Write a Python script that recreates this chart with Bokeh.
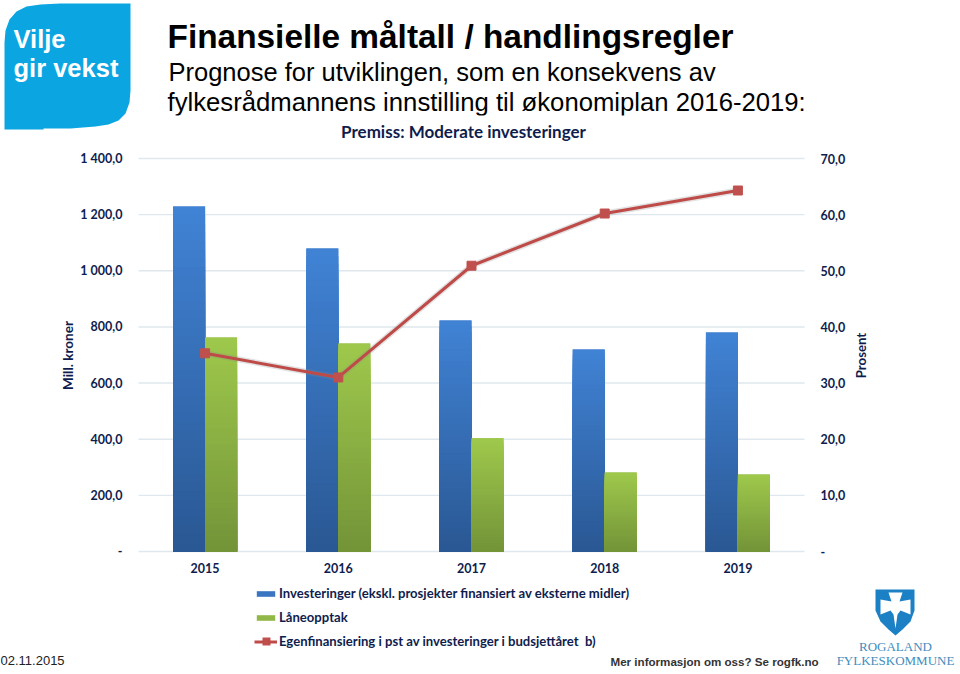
import math
from bokeh.plotting import figure
from bokeh.embed import file_html
from bokeh.resources import INLINE
from bokeh.models import (Range1d, LinearAxis, FixedTicker, Label, Legend, LegendItem,
                          PolyAnnotation)

years = ["2015", "2016", "2017", "2018", "2019"]
investeringer = [1229, 1079, 823, 720, 780]
laneopptak = [762, 741, 403, 281, 274]
egenfinansiering = [35.3, 31.0, 50.9, 60.2, 64.3]
left_ticks = [0, 200, 400, 600, 800, 1000, 1200, 1400]
left_labels = ["-", "200,0", "400,0", "600,0", "800,0", "1 000,0", "1 200,0", "1 400,0"]
right_ticks = [0, 10, 20, 30, 40, 50, 60, 70]
right_labels = ["-", "10,0", "20,0", "30,0", "40,0", "50,0", "60,0", "70,0"]

NAVY = "#0f1d4e"
FL, FR, FT, FB = 138, 804, 158, 551
W, H = 960, 674
KX = (FR - FL) / 5
KY = (FB - FT) / 1400
KP = (FB - FT) / 70

p = figure(width=W, height=H, output_backend="svg", toolbar_location=None,
           x_range=Range1d(-FL / KX, (W - FL) / KX), y_range=Range1d(-(H - FB) / KY, FB / KY),
           min_border=0, margin=(0, 0, 0, 0), outline_line_color=None, background_fill_color="white",
           border_fill_color="white", x_axis_location=None, y_axis_location=None)
p.extra_y_ranges = {"pct": Range1d(-(H - FB) / KP, FB / KP)}
p.xgrid.visible = False
p.ygrid.visible = False


def style(ax):
    ax.axis_line_color = None
    ax.major_tick_line_color = None
    ax.minor_tick_line_color = None
    ax.major_label_text_font = "Lato"
    ax.major_label_text_font_style = "bold"
    ax.major_label_text_font_size = "12.5px"
    ax.major_label_text_color = NAVY


xc = [i + 0.5 for i in range(len(years))]
xax = LinearAxis(fixed_location=0, ticker=FixedTicker(ticks=xc),
                 major_label_overrides={c: y for c, y in zip(xc, years)}, major_label_standoff=5)
style(xax)
p.add_layout(xax, "below")

lax = LinearAxis(fixed_location=0, ticker=FixedTicker(ticks=left_ticks),
                 major_label_overrides=dict(zip(left_ticks, left_labels)), major_label_standoff=10)
style(lax)
p.add_layout(lax, "left")

rax = LinearAxis(fixed_location=5, y_range_name="pct", ticker=FixedTicker(ticks=right_ticks),
                 major_label_overrides=dict(zip(right_ticks, right_labels)), major_label_standoff=10)
style(rax)
p.add_layout(rax, "right")

p.segment(x0=0, x1=5, y0=left_ticks, y1=left_ticks, line_color="#dfe8ee", line_width=1.4)

BAR = 0.24


def lerp(c1, c2, t):
    return "#%02x%02x%02x" % tuple(round(a + (b - a) * t) for a, b in zip(c1, c2))


def gradient_bars(values, x0, x1, top, bottom, n=40):
    base = p.quad(left=x0, right=x1, bottom=0, top=values, fill_color=lerp(top, bottom, 0.3), line_color=None)
    for i in range(n):
        f = 1 - i / n
        p.quad(left=x0, right=x1, bottom=0, top=[v * f for v in values],
               fill_color=lerp(top, bottom, i / (n - 1)), line_color=None)
    return base


blue = gradient_bars(investeringer, [c - BAR for c in xc], xc, (64, 130, 212), (42, 88, 148))
green = gradient_bars(laneopptak, xc, [c + BAR for c in xc], (158, 200, 76), (116, 148, 56))

p.line(xc, egenfinansiering, y_range_name="pct", line_color="#8a8a8a", line_alpha=0.25, line_width=6)
ln = p.line(xc, egenfinansiering, y_range_name="pct", line_color="#be4b48", line_width=3)
mk = p.scatter(xc, egenfinansiering, y_range_name="pct", marker="square", size=9,
               fill_color="#c0504d", line_color="#c0504d")

legend = Legend(items=[
    LegendItem(label="Investeringer (ekskl. prosjekter finansiert av eksterne midler)", renderers=[blue]),
    LegendItem(label="Låneopptak", renderers=[green]),
    LegendItem(label="Egenfinansiering i pst av investeringer i budsjettåret  b)", renderers=[ln, mk]),
], location=(254, H - 649), orientation="vertical", background_fill_alpha=0, border_line_color=None,
    glyph_width=23, glyph_height=7, label_height=14, spacing=8, padding=0, margin=0, label_standoff=2,
    label_text_font="Lato", label_text_font_style="bold", label_text_font_size="13.1px",
    label_text_color=NAVY)
p.add_layout(legend, "center")


def poly(pts, color):
    p.add_layout(PolyAnnotation(xs=[a for a, b in pts], ys=[H - b for a, b in pts],
                                xs_units="screen", ys_units="screen", fill_color=color, fill_alpha=1,
                                line_color=None))


def txt(x, y, s, size, font="Liberation Sans", style="normal", color="black", align="left"):
    # y is the wanted baseline, in pixels from the top of the page
    p.add_layout(Label(x=x, y=H - y + 0.39 * size, x_units="screen", y_units="screen", text=s, text_font=font,
                       text_font_style=style, text_font_size=f"{size}px", text_color=color,
                       text_align=align, text_baseline="alphabetic"))


def vtxt(x, y, s, size):
    p.add_layout(Label(x=x, y=H - y, x_units="screen", y_units="screen", text=s, text_font="Lato",
                       text_font_style="bold", text_font_size=f"{size}px", text_color=NAVY,
                       text_align="center", text_baseline="middle", angle=math.pi / 2))


vtxt(67, 355, "Mill. kroner", 13.5)
vtxt(860, 355, "Prosent", 13.2)

# marker of the legend's line entry
poly([(262, 637), (270, 637), (270, 645), (262, 645)], "#c0504d")

# Vilje gir vekst logo
LOGO = [(4, 129), (4, 42), (5, 30), (9, 19), (16, 11), (26, 6), (40, 4), (60, 3), (130, 3), (130, 90), (129, 102),
        (125, 113), (118, 120), (108, 124), (95, 126), (70, 128), (43, 128), (43, 129)]
poly(LOGO, "#0ba5e2")
txt(13, 48, "Vilje", 25.5, style="bold", color="white")
txt(13, 77, "gir vekst", 25.5, style="bold", color="white")

# headings
txt(167, 49, "Finansielle måltall / handlingsregler", 33.4, style="bold")
txt(168, 81, "Prognose for utviklingen, som en konsekvens av", 25.5)
txt(167, 111.5, "fylkesrådmannens innstilling til økonomiplan 2016-2019:", 25.7)
poly([(160, 115), (820, 115), (820, 122), (160, 122)], "white")
txt(463, 138, "Premiss: Moderate investeringer", 17, font="Lato", style="bold", color=NAVY, align="center")

# footer
txt(0, 665, "02.11.2015", 13, color="#222222")
txt(610, 666, "Mer informasjon om oss? Se rogfk.no", 11.6, style="bold", color="#333333")

# Rogaland shield
poly([(875, 589), (914, 589), (914, 610), (910, 621), (902, 629), (895, 635), (888, 629), (880, 621), (875, 610)],
     "#1b80c4")
poly([(888, 592), (902, 592), (899, 601), (910, 599), (910, 614), (900, 610), (897, 614), (895, 628), (893, 614),
      (890, 610), (880, 614), (880, 599), (891, 601)], "white")
txt(895, 651, "ROGALAND", 13, font="Liberation Serif", color="#3f8dbd", align="center")
txt(895, 665, "FYLKESKOMMUNE", 13, font="Liberation Serif", color="#3f8dbd", align="center")

open("out.html", "w").write(file_html(p, INLINE))
